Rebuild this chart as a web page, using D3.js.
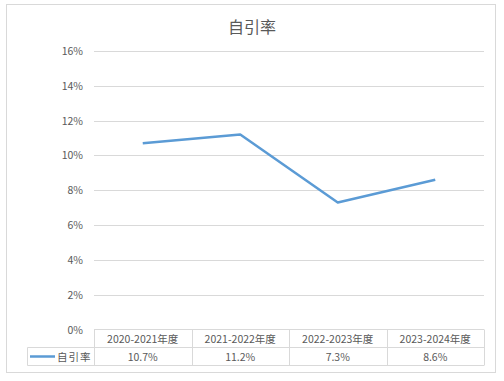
<!DOCTYPE html>
<html><head><meta charset="utf-8">
<script src="https://cdn.jsdelivr.net/npm/d3@7"></script>
<style>body{margin:0;background:#fff}svg{display:block}</style>
</head><body>
<script>
const title = "自引率";
const seriesName = "自引率";
const categories = ["2020-2021年度","2021-2022年度","2022-2023年度","2023-2024年度"];
const values = [10.7, 11.2, 7.3, 8.6];
const valueLabels = ["10.7%","11.2%","7.3%","8.6%"];
const yTicks = [0,2,4,6,8,10,12,14,16];

const W = 504, H = 381;
const font = "'Noto Sans CJK SC', 'Microsoft YaHei', sans-serif";
const svg = d3.select("body").append("svg").attr("width", W).attr("height", H);

svg.append("rect").attr("x",6.5).attr("y",4.5).attr("width",489).attr("height",368)
  .attr("fill","#fff").attr("stroke","#d9d9d9").attr("stroke-width",1);

svg.append("text").attr("x",252).attr("y",33).attr("text-anchor","middle")
  .attr("font-family",font).attr("font-size",16).attr("fill","#595959").text(title);

const left = 94, right = 484;
const x = d3.scaleBand().domain(categories).range([left,right]).padding(0);
const y = d3.scaleLinear().domain([0,16]).range([329.5,51]);

const g = svg.append("g");
g.selectAll("line.grid").data(yTicks.filter(d=>d>0)).join("line")
  .attr("x1",left).attr("x2",right)
  .attr("y1",d=>Math.round(y(d))+0.5).attr("y2",d=>Math.round(y(d))+0.5)
  .attr("stroke","#d9d9d9").attr("stroke-width",1);

g.selectAll("text.ytick").data(yTicks).join("text")
  .attr("x",83).attr("y",d=>y(d)+4).attr("text-anchor","end")
  .attr("font-family",font).attr("font-size",10.5).attr("fill","#595959")
  .text(d=>d+"%");

const line = d3.line().x((d,i)=>x(categories[i])+x.bandwidth()/2).y(d=>y(d));
g.append("path").datum(values).attr("d",line).attr("fill","none")
  .attr("stroke","#5B9BD5").attr("stroke-width",2.5).attr("stroke-linejoin","round");

// data table
const tTop = 329.5, tMid = 347.5, tBot = 365.5, tLeft = 27.5;
const tg = svg.append("g").attr("stroke","#d9d9d9").attr("stroke-width",1);
tg.append("line").attr("x1",left).attr("x2",right).attr("y1",tTop).attr("y2",tTop);
tg.append("line").attr("x1",tLeft).attr("x2",right).attr("y1",tMid).attr("y2",tMid);
tg.append("line").attr("x1",tLeft).attr("x2",right).attr("y1",tBot).attr("y2",tBot);
tg.append("line").attr("x1",tLeft).attr("x2",tLeft).attr("y1",tMid).attr("y2",tBot);
const bounds = categories.map(c=>x(c)).concat([right]);
tg.selectAll("line.v").data(bounds).join("line")
  .attr("x1",d=>Math.round(d)+0.5).attr("x2",d=>Math.round(d)+0.5)
  .attr("y1",tTop).attr("y2",tBot);

svg.selectAll("text.cat").data(categories).join("text")
  .attr("x",d=>x(d)+x.bandwidth()/2).attr("y",tTop+13)
  .attr("text-anchor","middle").attr("font-family",font).attr("font-size",10.5)
  .attr("fill","#595959").text(d=>d);
svg.selectAll("text.val").data(valueLabels).join("text")
  .attr("x",(d,i)=>x(categories[i])+x.bandwidth()/2).attr("y",tMid+13)
  .attr("text-anchor","middle").attr("font-family",font).attr("font-size",10.5)
  .attr("fill","#595959").text(d=>d);

svg.append("line").attr("x1",30).attr("x2",55).attr("y1",356.5).attr("y2",356.5)
  .attr("stroke","#5B9BD5").attr("stroke-width",2.5);
svg.append("text").attr("x",57).attr("y",360.5).attr("font-family",font)
  .attr("font-size",10.5).attr("fill","#595959").attr("letter-spacing",1).text(seriesName);
</script>
</body></html>
